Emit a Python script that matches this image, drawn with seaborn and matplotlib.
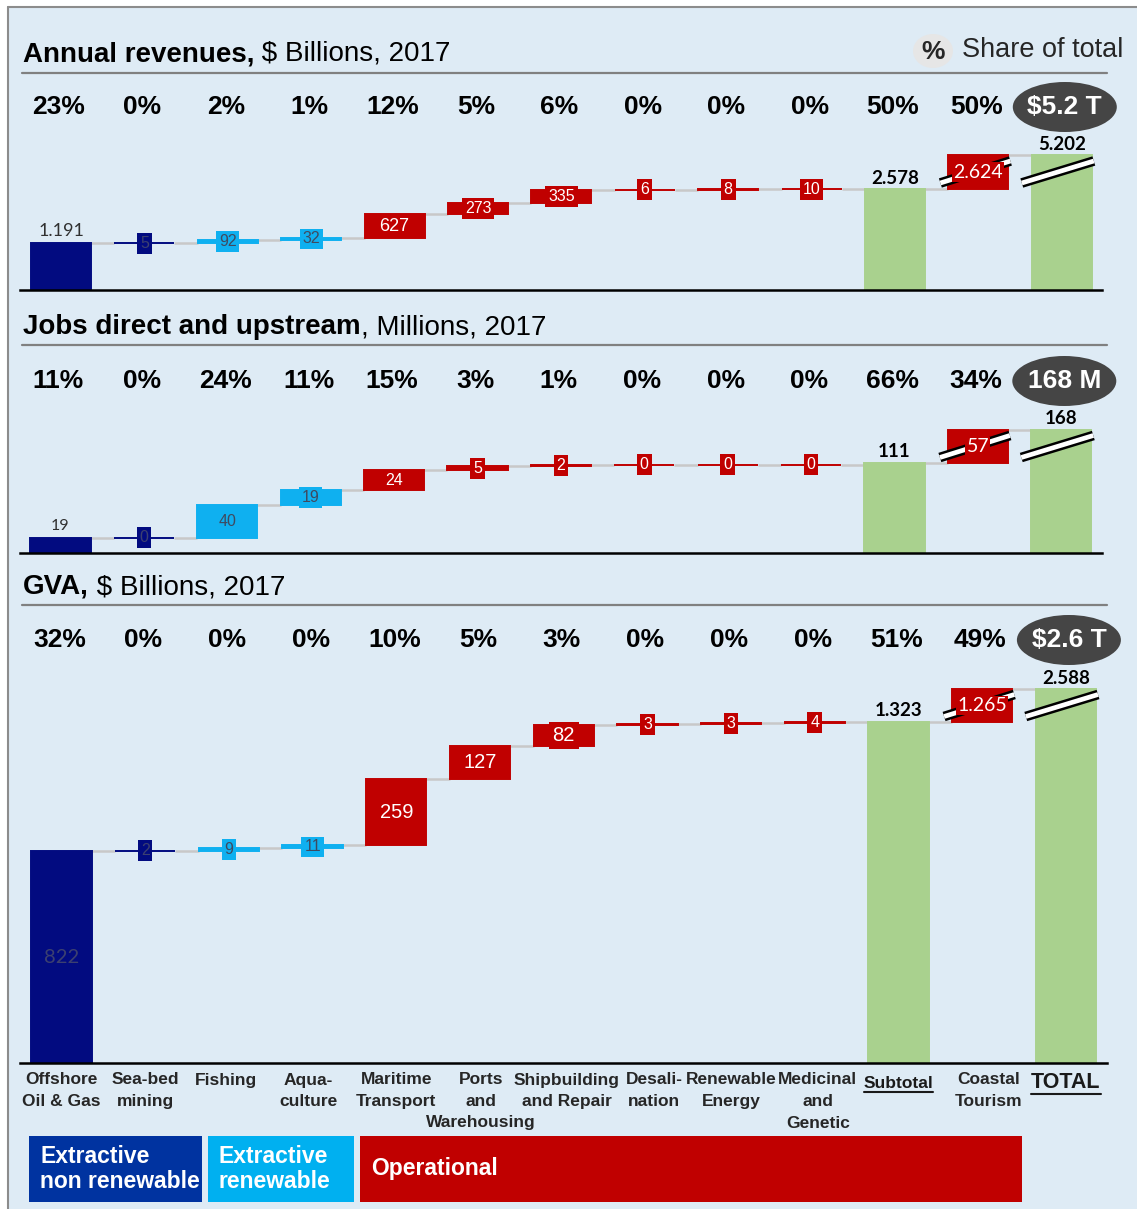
import numpy as np
import pandas as pd
import matplotlib
matplotlib.use("Agg")
import matplotlib.pyplot as plt
import seaborn as sns
from matplotlib.patches import Ellipse, Rectangle
from matplotlib.lines import Line2D

# ---------------- data ----------------
categories = ["Offshore\nOil & Gas", "Sea-bed\nmining", "Fishing", "Aqua-\nculture",
              "Maritime\nTransport", "Ports\nand\nWarehousing", "Shipbuilding\nand Repair",
              "Desali-\nnation", "Renewable\nEnergy", "Medicinal\nand\nGenetic",
              "Subtotal", "Coastal\nTourism", "TOTAL"]
groups = ["nonrenew", "nonrenew", "renew", "renew", "oper", "oper", "oper",
          "oper", "oper", "oper", "subtotal", "oper", "total"]

revenue_sectors = [1191, 5, 92, 32, 627, 273, 335, 6, 8, 10]
revenue_subtotal = 2578
revenue_tourism = 2624
revenue_total = 5202
revenue_share = [23, 0, 2, 1, 12, 5, 6, 0, 0, 0, 50, 50]
revenue_badge = "$5.2 T"

jobs_sectors = [19, 0, 40, 19, 24, 5, 2, 0, 0, 0]
jobs_subtotal = 111
jobs_tourism = 57
jobs_total = 168
jobs_share = [11, 0, 24, 11, 15, 3, 1, 0, 0, 0, 66, 34]
jobs_badge = "168 M"

gva_sectors = [822, 2, 9, 11, 259, 127, 82, 3, 3, 4]
gva_subtotal = 1323
gva_tourism = 1265
gva_total = 2588
gva_share = [32, 0, 0, 0, 10, 5, 3, 0, 0, 0, 51, 49]
gva_badge = "$2.6 T"

title_bold = ["Annual revenues,", "Jobs direct and upstream", "GVA,"]
title_rest = [" $ Billions, 2017", ", Millions, 2017", " $ Billions, 2017"]
legend_labels = ["Extractive\nnon renewable", "Extractive\nrenewable", "Operational"]
share_note = "Share of total"

# ---------------- style ----------------
sns.set_theme(style="white")
plt.rcParams['font.family'] = ['Liberation Sans', 'DejaVu Sans']
CAL = ['Lato', 'DejaVu Sans']

W, H = 1137, 1209
BG = '#deebf5'
colors = {"nonrenew": '#020b80', "renew": '#0fb0f0', "oper": '#c00000',
          "subtotal": '#a9d18e', "total": '#a9d18e'}
label_colors = {"nonrenew": '#3c4070', "renew": '#3f4a60', "oper": 'white'}
BAR_W = 0.72
label_dx = [0, 0, -3, -4, 0, 1, 3, 7, 0, 3, 0, 6, 0]  # pixel nudges of category labels

layouts = [
    dict(left=20, right=1102, base=290, top=130, cx0=61, dx=83.4, sub_top=189,
         tour_px=34, title_y=54, rule_y=73, pct_y=107, lsize=13, ssize=11.5),
    dict(left=20, right=1102, base=553, top=405, cx0=60.5, dx=83.4, sub_top=463,
         tour_px=33, title_y=327, rule_y=345, pct_y=381, lsize=11.5, ssize=11.5),
    dict(left=20, right=1107, base=1063, top=660, cx0=61.5, dx=83.7, sub_top=722,
         tour_px=33, title_y=587, rule_y=605, pct_y=640, lsize=14.5, ssize=11.5),
]

fig = plt.figure(figsize=(W / 100, H / 100), dpi=100)
fig.patch.set_facecolor('white')


def fx(px):
    return px / W


def fy(py):
    return 1 - py / H


fig.add_artist(Rectangle((fx(8), 0), 1 - fx(8), fy(7), transform=fig.transFigure,
                         facecolor=BG, edgecolor='none', zorder=0))
fig.add_artist(Line2D([fx(8), 1], [fy(7), fy(7)], transform=fig.transFigure, color='#8c8c8c', lw=1.5))
fig.add_artist(Line2D([fx(8), fx(8)], [0, fy(7)], transform=fig.transFigure, color='#8c8c8c', lw=1.5))


def fmt(v):
    return f"{v:,}".replace(",", ".")


renderer = fig.canvas.get_renderer()


def draw_panel(idx, sectors, subtotal, tourism, total, share, badge):
    lay = layouts[idx]
    ax = fig.add_axes([fx(lay['left']), fy(lay['base']), (lay['right'] - lay['left']) / W,
                       (lay['base'] - lay['top']) / H])
    k = (lay['base'] - lay['sub_top']) / subtotal  # px per unit
    tour_disp = lay['tour_px'] / k
    cum = np.concatenate([[0], np.cumsum(sectors)])
    bottoms = np.array(list(cum[:-1]) + [0, subtotal, 0], dtype=float)
    heights = np.array(list(sectors) + [subtotal, tour_disp, subtotal + tour_disp], dtype=float)
    df = pd.DataFrame({"category": categories, "height": heights})
    sns.barplot(data=df, x="category", y="height", order=categories, bottom=bottoms,
                width=BAR_W, errorbar=None, ax=ax, color='gray', zorder=3)
    for patch, g in zip(ax.patches, groups):
        patch.set_facecolor(colors[g])
        patch.set_edgecolor(colors[g])
        patch.set_linewidth(1.4)
    xmin = (lay['left'] - lay['cx0']) / lay['dx']
    xmax = (lay['right'] - lay['cx0']) / lay['dx']
    ax.set_xlim(xmin, xmax)
    ax.set_ylim(0, (lay['base'] - lay['top']) / k)
    ax.set_facecolor('none')
    ax.set_xticks([])
    ax.set_yticks([])
    ax.set_xlabel("")
    ax.set_ylabel("")
    for s in ['top', 'left', 'right']:
        ax.spines[s].set_visible(False)
    ax.spines['bottom'].set_color('black')
    ax.spines['bottom'].set_linewidth(1.8)
    ax.spines['bottom'].set_zorder(4)

    tops = bottoms + heights
    for i in range(12):
        ax.plot([i + BAR_W / 2, i + 1 - BAR_W / 2], [tops[i], tops[i]], color='#c8c8c8',
                lw=1.8, zorder=2, solid_capstyle='butt')

    # value labels
    values = list(sectors) + [subtotal, tourism, total]
    for i in range(13):
        g = groups[i]
        v = values[i]
        hpx = heights[i] * k
        if i == 0:
            if hpx > 100:
                ax.text(i, bottoms[i] + heights[i] / 2, fmt(v), ha='center', va='center',
                        color='#3c4070', fontsize=lay['lsize'], family=CAL, zorder=6)
            else:
                ax.text(i, tops[i] + 12 / k, fmt(v), ha='center', va='center',
                        color='#303030', fontsize=lay['lsize'], family=CAL, zorder=6)
        elif i < 10:
            size = lay['lsize'] if hpx > 20 else lay['ssize']
            ax.text(i, bottoms[i] + heights[i] / 2, fmt(v), ha='center', va='center',
                    color=label_colors[g], fontsize=size, zorder=6,
                    bbox=dict(boxstyle='square,pad=0.18', facecolor=colors[g], edgecolor='none'))
        elif i == 10 or i == 12:
            ax.text(i, tops[i] + 11 / k, fmt(v), ha='center', va='center', color='black',
                    fontsize=13.5, fontweight='bold', family=CAL, zorder=6)
        else:
            ax.text(i, bottoms[i] + heights[i] / 2, fmt(v), ha='center', va='center',
                    color='white', fontsize=14, family=CAL, zorder=7,
                    bbox=dict(boxstyle='square,pad=0.06', facecolor=colors[g], edgecolor='none'))

    # break marks on tourism and total bars
    mid = subtotal + tour_disp / 2
    for i, lpad in [(11, 8), (12, 10)]:
        x0 = i - BAR_W / 2 - lpad / lay['dx']
        x1 = i + BAR_W / 2 + 2 / lay['dx']
        y0, y1 = mid - 11 / k, mid + 11 / k
        ax.plot([x0, x1], [y0, y1], color='black', lw=7, solid_capstyle='butt', zorder=5)
        ax.plot([x0, x1], [y0, y1], color='white', lw=3.4, solid_capstyle='butt', zorder=5.5)

    # title + rule
    tb = fig.text(fx(23), fy(lay['title_y']), title_bold[idx], fontsize=20, fontweight='bold',
                  ha='left', va='center', color='black')
    ext = tb.get_window_extent(renderer)
    fig.text(ext.x1 / W, fy(lay['title_y']), title_rest[idx], fontsize=20, ha='left',
             va='center', color='black')
    fig.add_artist(Line2D([fx(22), fx(1107)], [fy(lay['rule_y'])] * 2, transform=fig.transFigure,
                          color='#808080', lw=1.6))

    # shares
    for i, s in enumerate(share):
        cx = lay['cx0'] + i * lay['dx'] - 2
        fig.text(fx(cx), fy(lay['pct_y']), f"{s}%", fontsize=19, fontweight='bold',
                 ha='center', va='center', color='black')
    cx = lay['cx0'] + 12 * lay['dx'] + 3
    fig.add_artist(Ellipse((fx(cx), fy(lay['pct_y'])), 104 / W, 50 / H, transform=fig.transFigure,
                           facecolor='#454545', edgecolor='none'))
    fig.text(fx(cx), fy(lay['pct_y']), badge, fontsize=19, fontweight='bold', ha='center',
             va='center', color='white')
    return ax


draw_panel(0, revenue_sectors, revenue_subtotal, revenue_tourism, revenue_total, revenue_share, revenue_badge)
draw_panel(1, jobs_sectors, jobs_subtotal, jobs_tourism, jobs_total, jobs_share, jobs_badge)
draw_panel(2, gva_sectors, gva_subtotal, gva_tourism, gva_total, gva_share, gva_badge)

# share legend at top right
fig.add_artist(Ellipse((fx(933), fy(51)), 40 / W, 34 / H, transform=fig.transFigure,
                       facecolor='#e6e6e6', edgecolor='none'))
fig.text(fx(933), fy(52), "%", fontsize=19, fontweight='bold', ha='center', va='center')
fig.text(fx(962), fy(50), share_note, fontsize=19.5, ha='left', va='center')

# category labels (one text per line)
lay = layouts[2]
for i, c in enumerate(categories):
    cx = lay['cx0'] + i * lay['dx'] + label_dx[i]
    if c == "Subtotal":
        t = fig.text(fx(cx), fy(1083), c, fontsize=12.5, fontweight='bold', ha='center', va='center',
                     color='#1a1a1a')
    elif c == "TOTAL":
        t = fig.text(fx(cx), fy(1082), c, fontsize=15.5, fontweight='bold', ha='center', va='center',
                     color='#1a1a1a')
    else:
        for j, line in enumerate(c.split("\n")):
            fig.text(fx(cx), fy(1080 + 21.5 * j), line, fontsize=12.5, fontweight='bold',
                     ha='center', va='center', color='#262626')
        continue
    e = t.get_window_extent(renderer)
    fig.add_artist(Line2D([e.x0 / W, e.x1 / W], [(e.y0 - 1) / H] * 2, transform=fig.transFigure,
                          color='#1a1a1a', lw=1.5))

# group legend boxes
legend_boxes = [(29, 202, '#0033a0'), (208, 354, '#00b0f0'), (360, 1022, '#c00000')]
for (x0, x1, col), lab in zip(legend_boxes, legend_labels):
    fig.add_artist(Rectangle((fx(x0), fy(1202)), (x1 - x0) / W, 66 / H, transform=fig.transFigure,
                             facecolor=col, edgecolor='none'))
    fig.text(fx(x0 + 11), fy(1169), lab, fontsize=16.5, fontweight='bold', color='white',
             ha='left', va='center', linespacing=1.12)

fig.savefig("out.png", dpi=100, facecolor=fig.get_facecolor())
